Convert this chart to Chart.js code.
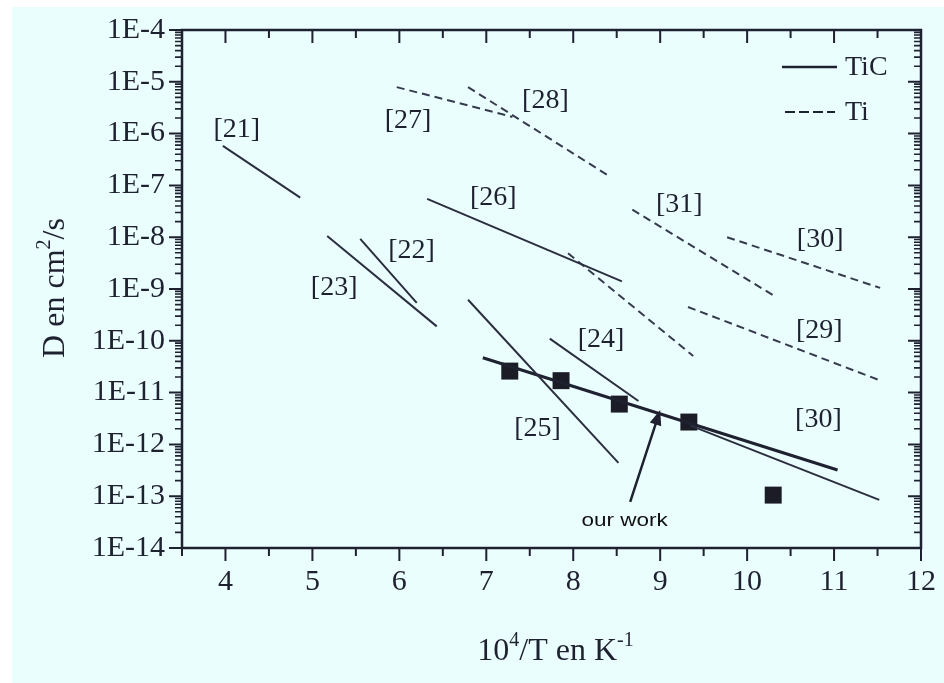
<!DOCTYPE html>
<html>
<head>
<meta charset="utf-8">
<script src="https://cdn.jsdelivr.net/npm/chart.js@4.4.1/dist/chart.umd.min.js"></script>
<style>
  html, body { margin: 0; padding: 0; background: #ffffff; }
  canvas { display: block; }
</style>
</head>
<body>
<canvas id="chart" width="944" height="683"></canvas>
<script>
// Axes
const xTickValues = [4, 5, 6, 7, 8, 9, 10, 11, 12];
const yTickValues = [1e-4, 1e-5, 1e-6, 1e-7, 1e-8, 1e-9, 1e-10, 1e-11, 1e-12, 1e-13, 1e-14];

// TiC (solid segments): start / end points
const ticRefs = ['[21]', '[22]', '[23]', '[24]', '[25]', '[26]', '[30]'];
const ticX1 = [3.97, 5.55, 5.17, 7.73, 6.79, 6.32, 9.35];
const ticD1 = [5.8e-7, 9.3e-9, 1.05e-8, 1.1e-10, 6.2e-10, 5.5e-8, 2.3e-12];
const ticX2 = [4.86, 6.20, 6.43, 8.75, 8.52, 8.56, 11.52];
const ticD2 = [5.8e-8, 5.4e-10, 1.9e-10, 6.9e-12, 4.4e-13, 1.4e-9, 8.5e-14];

// Ti (dashed segments)
const tiRefs = ['[27]', '[28]', '', '[31]', '[30]', '[29]'];
const tiX1 = [5.97, 6.79, 7.94, 8.68, 9.77, 9.32];
const tiD1 = [7.9e-6, 7.9e-6, 4.9e-9, 3.4e-8, 1.0e-8, 4.5e-10];
const tiX2 = [7.30, 8.43, 9.38, 10.30, 11.53, 11.52];
const tiD2 = [2.1e-6, 1.45e-7, 5.1e-11, 7.6e-10, 1.05e-9, 1.74e-11];

// our work
const ourT = [7.27, 7.86, 8.53, 9.33, 10.30];
const ourD = [2.6e-11, 1.7e-11, 6.0e-12, 2.7e-12, 1.05e-13];
const fitT = [6.96, 11.04];
const fitD = [4.7e-11, 3.2e-13];
const arrowT = [8.655, 9.0];
const arrowD = [7.8e-14, 4.6e-12];
const noteT = 8.59;
const noteD = 3.3e-14;

// reference labels
const labelText = ['[21]', '[22]', '[23]', '[24]', '[25]', '[26]', '[27]', '[28]', '[29]', '[30]', '[30]', '[31]'];
const labelX = [4.13, 6.14, 5.25, 8.32, 7.59, 7.08, 6.10, 7.68, 10.83, 10.84, 10.82, 9.22];
const labelD = [1.17e-6, 5.6e-9, 1.05e-9, 1.05e-10, 2.0e-12, 5.75e-8, 1.8e-6, 4.3e-6, 1.6e-10, 8.9e-9, 2.95e-12, 4.2e-8];

const INK = '#1e2130';
const SERIF = '"Liberation Serif", "Times New Roman", serif';

const datasets = [];
ticRefs.forEach((ref, i) => {
    datasets.push({
        label: 'TiC ' + ref,
        data: [{x: ticX1[i], y: ticD1[i]}, {x: ticX2[i], y: ticD2[i]}],
        showLine: true,
        borderColor: '#2a2e3e',
        borderWidth: 2,
        pointRadius: 0
    });
});
tiRefs.forEach((ref, i) => {
    datasets.push({
        label: 'Ti ' + ref,
        data: [{x: tiX1[i], y: tiD1[i]}, {x: tiX2[i], y: tiD2[i]}],
        showLine: true,
        borderColor: '#353b4d',
        borderWidth: 2,
        borderDash: [8, 5],
        pointRadius: 0
    });
});
datasets.push({
    label: 'our work fit',
    data: fitT.map((t, i) => ({x: t, y: fitD[i]})),
    showLine: true,
    borderColor: INK,
    borderWidth: 3,
    pointRadius: 0
});
datasets.push({
    label: 'our work',
    data: ourT.map((t, i) => ({x: t, y: ourD[i]})),
    showLine: false,
    pointStyle: 'rect',
    pointRadius: 12,
    backgroundColor: '#1b1c26',
    borderColor: '#1b1c26',
    borderWidth: 0
});

// Décor: fond, cadre, ticks, étiquettes, légende
const decor = {
    id: 'decor',
    beforeDraw(chart) {
        const ctx = chart.ctx;
        ctx.save();
        ctx.fillStyle = '#ffffff';
        ctx.fillRect(0, 0, chart.width, chart.height);
        ctx.fillStyle = '#ebfefe';
        ctx.fillRect(12, 7, chart.width - 12, chart.height - 7);
        ctx.restore();
    },
    afterDatasetsDraw(chart) {
        const ctx = chart.ctx;
        const xs = chart.scales.x, ys = chart.scales.y;
        const a = chart.chartArea;
        const px = v => xs.getPixelForValue(v);
        const py = v => ys.getPixelForValue(v);
        ctx.save();
        ctx.strokeStyle = INK;
        ctx.fillStyle = INK;

        // cadre
        ctx.lineWidth = 2.5;
        ctx.strokeRect(a.left, a.top, a.right - a.left, a.bottom - a.top);

        // ticks x (bas et haut, vers le bas)
        ctx.lineWidth = 2;
        for (let v = 3.5; v <= 12.001; v += 0.5) {
            const major = Number.isInteger(v);
            const len = major ? 13 : 8;
            const x = px(v);
            ctx.beginPath();
            ctx.moveTo(x, a.bottom); ctx.lineTo(x, a.bottom + len);
            ctx.moveTo(x, a.top); ctx.lineTo(x, a.top + len);
            ctx.stroke();
        }
        // ticks y (gauche et droite, vers la gauche)
        for (let e = -14; e <= -4; e++) {
            for (let m = 1; m <= 9; m++) {
                const v = m * Math.pow(10, e);
                if (v > 1.0001e-4) continue;
                const y = py(v);
                const len = m === 1 ? 13 : 7;
                ctx.lineWidth = m === 1 ? 2 : 1.6;
                ctx.beginPath();
                ctx.moveTo(a.left, y); ctx.lineTo(a.left - len, y);
                ctx.moveTo(a.right, y); ctx.lineTo(a.right - len, y);
                ctx.stroke();
            }
        }

        // étiquettes des références
        ctx.font = '28px ' + SERIF;
        ctx.textAlign = 'center';
        ctx.textBaseline = 'middle';
        labelText.forEach((t, i) => ctx.fillText(t, px(labelX[i]), py(labelD[i])));

        // flèche "our work"
        const x0 = px(arrowT[0]), y0 = py(arrowD[0]);
        const x1 = px(arrowT[1]), y1 = py(arrowD[1]);
        const ang = Math.atan2(y1 - y0, x1 - x0);
        ctx.lineWidth = 2.5;
        ctx.beginPath();
        ctx.moveTo(x0, y0);
        ctx.lineTo(x1 - 10 * Math.cos(ang), y1 - 10 * Math.sin(ang));
        ctx.stroke();
        ctx.beginPath();
        ctx.moveTo(x1, y1);
        ctx.lineTo(x1 - 15 * Math.cos(ang) + 6 * Math.sin(ang), y1 - 15 * Math.sin(ang) - 6 * Math.cos(ang));
        ctx.lineTo(x1 - 15 * Math.cos(ang) - 6 * Math.sin(ang), y1 - 15 * Math.sin(ang) + 6 * Math.cos(ang));
        ctx.closePath();
        ctx.fill();

        ctx.save();
        ctx.translate(px(noteT), py(noteD));
        ctx.scale(1.25, 1);
        ctx.font = '18px "Liberation Sans", Arial, sans-serif';
        ctx.fillStyle = '#111111';
        ctx.fillText('our work', 0, 0);
        ctx.restore();

        // légende
        ctx.lineWidth = 2.5;
        ctx.beginPath();
        ctx.moveTo(a.right - 139, a.top + 37); ctx.lineTo(a.right - 84, a.top + 37);
        ctx.stroke();
        ctx.lineWidth = 2;
        ctx.setLineDash([10, 4]);
        ctx.beginPath();
        ctx.moveTo(a.right - 136, a.top + 82); ctx.lineTo(a.right - 86, a.top + 82);
        ctx.stroke();
        ctx.setLineDash([]);
        ctx.textAlign = 'left';
        ctx.font = '28px ' + SERIF;
        ctx.fillText('TiC', a.right - 76, a.top + 38);
        ctx.fillText('Ti', a.right - 76, a.top + 83);

        // titres des axes
        ctx.textAlign = 'left';
        ctx.textBaseline = 'alphabetic';
        const xt = [['10', 0], ['4', -1], ['/T en K', 0], ['-1', -1]];
        const sup = '20px ' + SERIF, nor = '32px ' + SERIF;
        let w = 0;
        xt.forEach(p => { ctx.font = p[1] ? sup : nor; w += ctx.measureText(p[0]).width; });
        let cx = (a.left + a.right) / 2 + 4 - w / 2;
        const by = 660;
        xt.forEach(p => {
            ctx.font = p[1] ? sup : nor;
            ctx.fillText(p[0], cx, by + (p[1] ? -14 : 0));
            cx += ctx.measureText(p[0]).width;
        });

        ctx.save();
        ctx.translate(64, 288);
        ctx.rotate(-Math.PI / 2);
        const yt = [['D en cm', 0], ['2', 1], ['/s', 0]];
        w = 0;
        yt.forEach(p => { ctx.font = p[1] ? sup : nor; w += ctx.measureText(p[0]).width; });
        cx = -w / 2;
        yt.forEach(p => {
            ctx.font = p[1] ? sup : nor;
            ctx.fillText(p[0], cx, p[1] ? -14 : 0);
            cx += ctx.measureText(p[0]).width;
        });
        ctx.restore();

        ctx.restore();
    }
};

new Chart(document.getElementById('chart'), {
    type: 'scatter',
    data: { datasets: datasets },
    options: {
        responsive: false,
        animation: false,
        layout: { padding: { top: 30, right: 23, left: 0, bottom: 0 } },
        plugins: {
            legend: { display: false },
            tooltip: { enabled: false }
        },
        scales: {
            x: {
                type: 'linear',
                min: 3.5,
                max: 12,
                grid: { display: false, drawTicks: false },
                border: { display: false },
                afterBuildTicks: s => { s.ticks = xTickValues.map(v => ({ value: v })); },
                afterFit: s => { s.height = 135; s.paddingLeft = 0; s.paddingRight = 0; },
                ticks: {
                    padding: 16,
                    color: INK,
                    font: { family: SERIF, size: 30 },
                    maxRotation: 0,
                    callback: v => String(v)
                }
            },
            y: {
                type: 'logarithmic',
                min: 1e-14,
                max: 1e-4,
                grid: { display: false, drawTicks: false },
                border: { display: false },
                afterBuildTicks: s => { s.ticks = yTickValues.map(v => ({ value: v })); },
                afterFit: s => { s.width = 182; s.paddingTop = 0; s.paddingBottom = 0; },
                ticks: {
                    padding: 17,
                    color: INK,
                    font: { family: SERIF, size: 30 },
                    callback: v => '1E' + Math.round(Math.log10(v))
                }
            }
        }
    },
    plugins: [decor]
});
</script>
</body>
</html>
